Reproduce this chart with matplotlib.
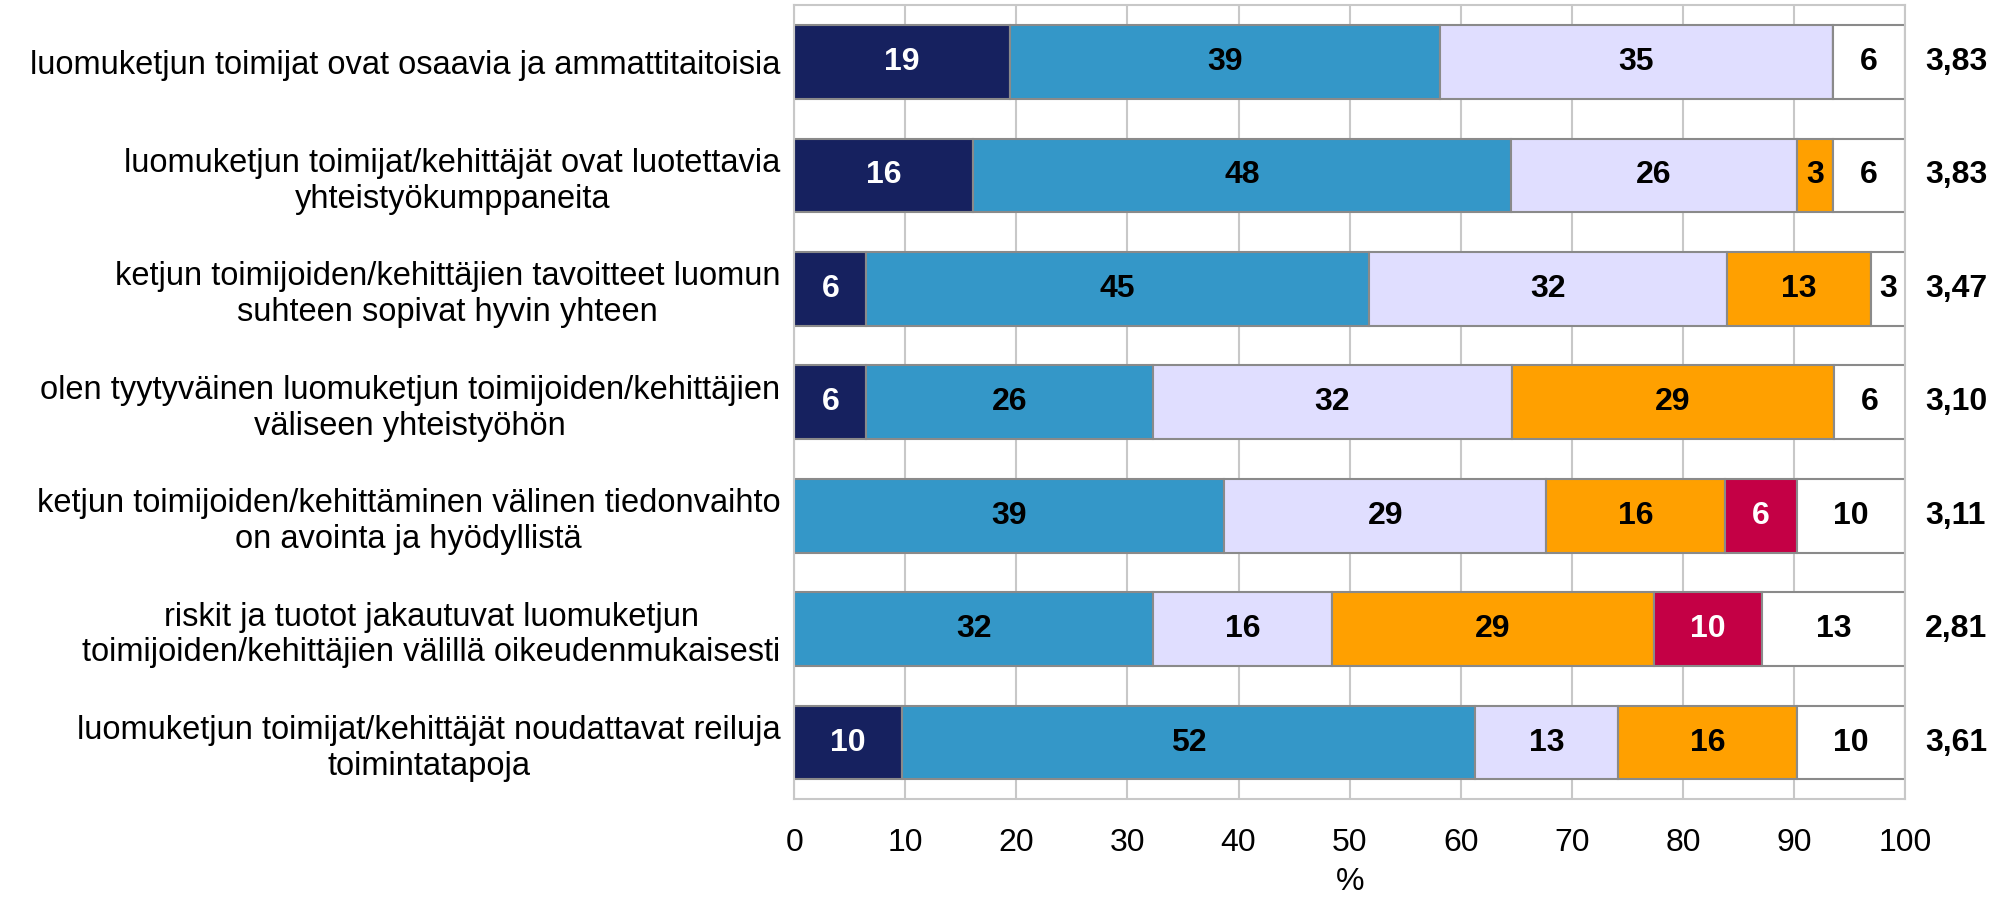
import matplotlib
matplotlib.use("Agg")
import matplotlib.pyplot as plt
import numpy as np

plt.rcParams['font.family'] = ['Liberation Sans', 'DejaVu Sans']

statements = [
    "luomuketjun toimijat ovat osaavia ja ammattitaitoisia",
    "luomuketjun toimijat/kehittäjät ovat luotettavia\nyhteistyökumppaneita",
    "ketjun toimijoiden/kehittäjien tavoitteet luomun\nsuhteen sopivat hyvin yhteen",
    "olen tyytyväinen luomuketjun toimijoiden/kehittäjien\nväliseen yhteistyöhön",
    "ketjun toimijoiden/kehittäminen välinen tiedonvaihto\non avointa ja hyödyllistä",
    "riskit ja tuotot jakautuvat luomuketjun\ntoimijoiden/kehittäjien välillä oikeudenmukaisesti",
    "luomuketjun toimijat/kehittäjät noudattavat reiluja\ntoimintatapoja",
]

# answer shares in %, from "fully agree" to "can't say"
fully_agree = [19.4, 16.1, 6.5, 6.5, 0.0, 0.0, 9.7]
agree = [38.7, 48.4, 45.2, 25.8, 38.7, 32.3, 51.6]
neutral = [35.4, 25.8, 32.3, 32.3, 29.0, 16.1, 12.9]
disagree = [0.0, 3.2, 12.9, 29.0, 16.1, 29.0, 16.1]
fully_disagree = [0.0, 0.0, 0.0, 0.0, 6.5, 9.7, 0.0]
cant_say = [6.5, 6.5, 3.2, 6.5, 9.7, 12.9, 9.7]

averages = ["3,83", "3,83", "3,47", "3,10", "3,11", "2,81", "3,61"]

series = [fully_agree, agree, neutral, disagree, fully_disagree, cant_say]
colors = ['#16215f', '#3497c8', '#e0deff', '#ffa000', '#c40045', '#ffffff']
text_colors = ['white', 'black', 'black', 'black', 'white', 'black']

FS = 23

fig = plt.figure(figsize=(19.98, 8.97), dpi=100)
ax = fig.add_axes([0.3975, 0.109, 0.556, 0.885])

y = np.arange(len(statements))
left = np.zeros(len(statements))
for vals, col, tcol in zip(series, colors, text_colors):
    vals = np.array(vals)
    ax.barh(y, vals, left=left, height=0.65, color=col,
            edgecolor='#8a8a8a', linewidth=1.5, zorder=2)
    for i, v in enumerate(vals):
        if v > 0:
            ax.text(left[i] + v / 2, y[i], f"{v:.0f}", ha='center', va='center',
                    fontsize=FS, fontweight='bold', color=tcol, zorder=3)
    left += vals

# mean score to the right of each bar
for i, a in enumerate(averages):
    ax.text(101.8, y[i], a, ha='left', va='center', fontsize=FS,
            fontweight='bold', clip_on=False)

ax.set_xlim(0, 100)
ax.set_ylim(len(statements) - 0.5, -0.5)
ax.set_xticks(np.arange(0, 101, 10))
ax.set_yticks(y)
ax.set_yticklabels(statements, fontsize=23.5, multialignment='center', linespacing=1.2)
ax.tick_params(axis='both', length=0)
ax.tick_params(axis='y', pad=10)
ax.tick_params(axis='x', labelsize=FS, pad=21)
ax.set_xlabel('%', fontsize=FS, labelpad=6)
ax.grid(axis='x', color='#c8c8c8', linewidth=1.5, zorder=0)
ax.set_axisbelow(True)
for s in ax.spines.values():
    s.set_color('#c8c8c8')
    s.set_linewidth(1.5)

fig.savefig('out.png', dpi=100)
